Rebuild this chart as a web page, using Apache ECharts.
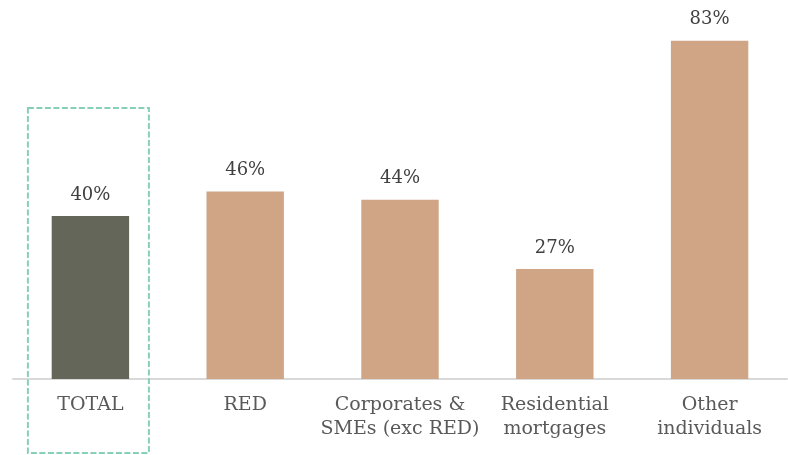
<!DOCTYPE html>
<html>
<head>
<meta charset="utf-8">
<script src="https://cdn.jsdelivr.net/npm/echarts@6/dist/echarts.min.js"></script>
<style>
  html, body { margin: 0; padding: 0; background: #ffffff; }
  #chart { width: 788px; height: 455px; }
</style>
</head>
<body>
<div id="chart"></div>
<script>
// Category labels and share values (%)
const categories = ['TOTAL', 'RED', 'Corporates &\nSMEs (exc RED)', 'Residential\nmortgages', 'Other\nindividuals'];
const values = [40, 46, 44, 27, 83];
const highlightIndex = 0;

const totalColor = '#65665a';
const segmentColor = '#cfa586';
const fontFamily = '"DejaVu Serif", serif';

const chart = echarts.init(document.getElementById('chart'));

const option = {
  animation: false,
  backgroundColor: '#ffffff',
  grid: { left: 13, right: 1, top: 0, bottom: 76 },
  xAxis: {
    type: 'category',
    data: categories,
    axisLine: { lineStyle: { color: '#d9d9d9', width: 2 } },
    axisTick: { show: false },
    axisLabel: {
      color: '#595959',
      fontFamily: fontFamily,
      fontSize: 19,
      lineHeight: 24,
      margin: 14,
      interval: 0
    }
  },
  yAxis: {
    type: 'value',
    min: 0,
    max: 93,
    show: false,
    splitLine: { show: false }
  },
  series: [{
    type: 'bar',
    barWidth: '50%',
    data: values.map((v, i) => ({
      value: v,
      itemStyle: { color: i === highlightIndex ? totalColor : segmentColor }
    })),
    label: {
      show: true,
      position: 'top',
      distance: 12,
      color: '#404040',
      fontFamily: fontFamily,
      fontSize: 18,
      formatter: p => p.value + '%'
    }
  }]
};

chart.setOption(option);

// Dashed frame around the TOTAL column
const center = chart.convertToPixel({ xAxisIndex: 0 }, categories[highlightIndex]);
const frameWidth = 121;
const frameTop = chart.convertToPixel({ yAxisIndex: 0 }, 66.5);
chart.setOption({
  graphic: [{
    type: 'rect',
    shape: { x: center - frameWidth / 2 - 2, y: frameTop, width: frameWidth, height: 455 - frameTop - 2 },
    style: { fill: 'none', stroke: '#88cfba', lineWidth: 2, lineDash: [6, 2.5] },
    z: 10
  }]
});
</script>
</body>
</html>
